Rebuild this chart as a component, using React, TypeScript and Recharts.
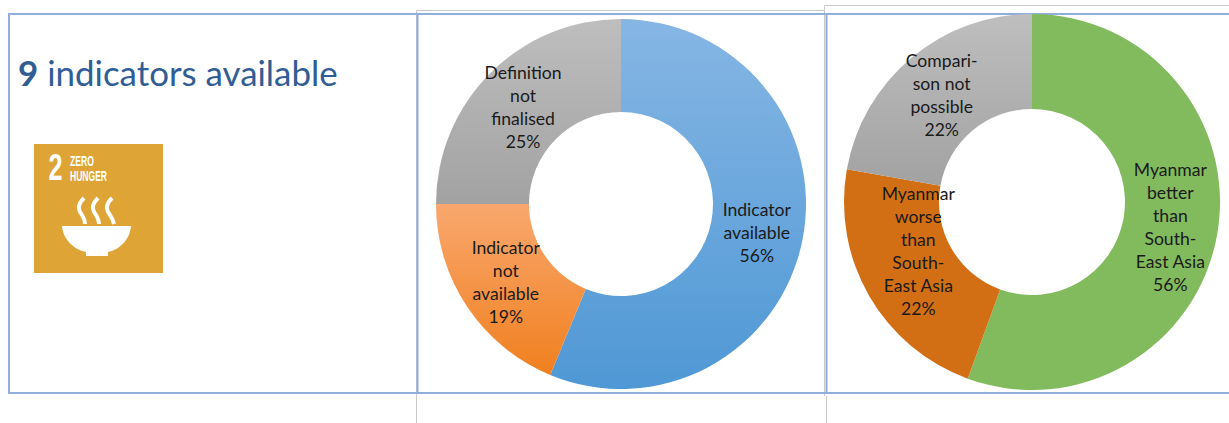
import React from "react";
import { PieChart, Pie, Cell } from "recharts";

const availabilityLabels = ["Indicator\navailable", "Indicator\nnot\navailable", "Definition\nnot\nfinalised"];
const availabilityValues = [9, 3, 4];
const availabilityFills = ["url(#gradBlue)", "url(#gradOrange)", "url(#gradGrey)"];

const comparisonLabels = ["Myanmar\nbetter\nthan\nSouth-\nEast Asia", "Myanmar\nworse\nthan\nSouth-\nEast Asia", "Compari-\nson not\npossible"];
const comparisonValues = [5, 2, 2];
const comparisonFills = ["#82BB5D", "#D26F15", "url(#gradGrey2)"];

const availabilityData = availabilityLabels.map((name, i) => ({ name, value: availabilityValues[i] }));
const comparisonData = comparisonLabels.map((name, i) => ({ name, value: comparisonValues[i] }));

const FONT = "Lato, 'Open Sans', sans-serif";
const RAD = Math.PI / 180;
const LINE = 23;

const makeLabel = (nudges: number[][]) => (props: any) => {
  const { cx, cy, midAngle, innerRadius, outerRadius, percent, index, name, payload } = props;
  const r = (innerRadius + outerRadius) / 2;
  const [nx, ny] = nudges[index] || [0, 0];
  const x = cx + r * Math.cos(-midAngle * RAD) + nx;
  const y = cy + r * Math.sin(-midAngle * RAD) + ny;
  const label: string = name ?? payload?.name ?? "";
  const lines = [...label.split("\n"), `${Math.round(percent * 100)}%`];
  const top = y - ((lines.length - 1) * LINE) / 2 + 7.5;
  return (
    <text x={x} y={top} textAnchor="middle" fontFamily={FONT} fontSize={17.6} fill="#1a1a1a">
      {lines.map((l, i) => (
        <tspan key={i} x={x} y={top + i * LINE}>{l}</tspan>
      ))}
    </text>
  );
};

const Gradient = ({ id, from, to }: { id: string; from: string; to: string }) => (
  <linearGradient id={id} x1="0" y1="0" x2="0" y2="1">
    <stop offset="0%" stopColor={from} />
    <stop offset="100%" stopColor={to} />
  </linearGradient>
);

const BLUE_RULE = "#8FAEDA";
const GREY_RULE = "#C9C9C9";

const Backdrop = () => (
  <svg width={1229} height={423} style={{ position: "absolute", left: 0, top: 0 }}>
    <g fill="none" stroke={GREY_RULE} strokeWidth={1}>
      <path d="M416.5 423 V10.5 H825" />
      <path d="M824.5 396 V5.5 H1229" />
      <path d="M826.5 396 V423" />
    </g>
    <g fill="none" stroke={BLUE_RULE} strokeWidth={2}>
      <path d="M1229 14 H9 V393 H1229" />
      <path d="M417.5 14 V393" />
      <path d="M826.5 14 V393" />
    </g>
    <text x={18} y={86} fontFamily={FONT} fontSize={34.9} fill="#2F5D94">
      <tspan fontWeight={700}>9</tspan> indicators available
    </text>
    <rect x={34} y={144} width={129} height={129} fill="#DEA536" />
    <g fill="#FFFFFF" fontFamily="'Liberation Sans Narrow', 'Liberation Sans', sans-serif" fontWeight={700}>
      <text x={48.5} y={180} fontSize={36} textLength={14} lengthAdjust="spacingAndGlyphs">2</text>
      <text x={70} y={166} fontSize={14} textLength={24} lengthAdjust="spacingAndGlyphs">ZERO</text>
      <text x={70} y={181} fontSize={14} textLength={37} lengthAdjust="spacingAndGlyphs">HUNGER</text>
    </g>
    <path fill="#FFFFFF" d="M62 226 H131 C130 240 119 250 108 252 V256 H86 V252 C75 250 63 240 62 226 Z" />
    <g fill="none" stroke="#FFFFFF" strokeWidth={4}>
      <path d="M84 198 C76 206 79 211 82 215 C84 218 85 220 85 224" />
      <path d="M98 198 C90 206 93 211 96 215 C98 218 99 220 99 224" />
      <path d="M112 198 C104 206 107 211 110 215 C112 218 113 220 114 224" />
    </g>
  </svg>
);

export default function App() {
  return (
    <div style={{ position: "absolute", left: 0, top: 0, width: 1229, height: 423, background: "#fff", overflow: "hidden" }}>
      <Backdrop />
      <div style={{ position: "absolute", left: 0, top: 0 }}>
        <PieChart width={1229} height={423} margin={{ top: 0, right: 0, bottom: 0, left: 0 }}>
          <defs>
            <Gradient id="gradBlue" from="#86B6E4" to="#4F98D5" />
            <Gradient id="gradOrange" from="#F9A76E" to="#F0801F" />
            <Gradient id="gradGrey" from="#BEBEBE" to="#A2A2A2" />
            <Gradient id="gradGrey2" from="#BEBEBE" to="#A2A2A2" />
          </defs>
          <Pie
            data={availabilityData}
            dataKey="value"
            nameKey="name"
            cx={621}
            cy={204}
            innerRadius={92}
            outerRadius={185}
            startAngle={90}
            endAngle={-270}
            stroke="none"
            labelLine={false}
            label={makeLabel([[0, 0], [0, 0], [0, 0]])}
            isAnimationActive={false}
          >
            {availabilityFills.map((f, i) => <Cell key={i} fill={f} />)}
          </Pie>
          <Pie
            data={comparisonData}
            dataKey="value"
            nameKey="name"
            cx={1032}
            cy={202}
            innerRadius={93}
            outerRadius={188}
            startAngle={90}
            endAngle={-270}
            stroke="none"
            labelLine={false}
            label={makeLabel([[0, 0], [8, -22], [0, 0]])}
            isAnimationActive={false}
          >
            {comparisonFills.map((f, i) => <Cell key={i} fill={f} />)}
          </Pie>
        </PieChart>
      </div>
    </div>
  );
}
